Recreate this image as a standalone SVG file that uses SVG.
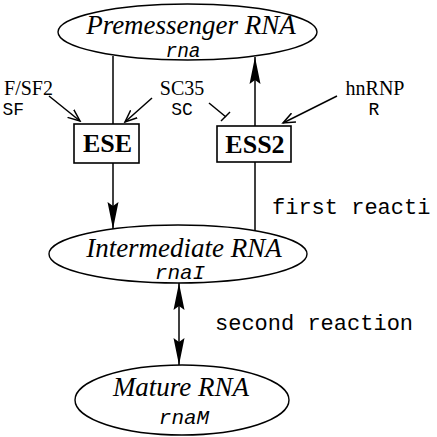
<svg xmlns="http://www.w3.org/2000/svg" width="437" height="437" viewBox="0 0 437 437">
<style>
.ell{fill:#fff;stroke:#000;stroke-width:1.4}
.box{fill:#fff;stroke:#000;stroke-width:1.6}
.ln{fill:none;stroke:#000;stroke-width:1.5}
.big{font-family:"Liberation Serif","Times New Roman",serif;font-style:italic;font-size:27px;text-anchor:middle}
.var{font-family:"Liberation Mono","Courier New",monospace;font-style:italic;font-size:21px;text-anchor:middle}
.bx{font-family:"Liberation Serif","Times New Roman",serif;font-weight:bold;font-size:26px;text-anchor:middle}
.lab{font-family:"Liberation Serif","Times New Roman",serif;font-size:20px}
.mono{font-family:"Liberation Mono","Courier New",monospace;font-size:18px}
.rx{font-family:"Liberation Mono","Courier New",monospace;font-size:22px}
</style>
<defs>
<marker id="solid" markerUnits="userSpaceOnUse" markerWidth="30" markerHeight="14" viewBox="0 -7 28 14" refX="27" refY="0" orient="auto-start-reverse">
<path d="M0,-5.5 L27,0 L0,5.5 L4,0 Z" fill="#000"/>
</marker>
<marker id="open" markerUnits="userSpaceOnUse" markerWidth="14" markerHeight="12" viewBox="0 -6 14 12" refX="12" refY="0" orient="auto">
<path d="M0,-5 L12,0 L0,5" fill="none" stroke="#000" stroke-width="1.5"/>
</marker>
</defs>
<g id="connectors">
<line class="ln" x1="113" y1="56" x2="113" y2="124"/>
<line class="ln" x1="113" y1="163" x2="113" y2="229" marker-end="url(#solid)"/>
<line class="ln" x1="255" y1="126" x2="255" y2="57" marker-end="url(#solid)"/>
<line class="ln" x1="255" y1="162" x2="255" y2="231"/>
<line class="ln" x1="179" y1="283" x2="179" y2="365" marker-start="url(#solid)" marker-end="url(#solid)"/>
<line class="ln" x1="49" y1="96" x2="80" y2="121" marker-end="url(#open)"/>
<line class="ln" x1="152" y1="98" x2="125" y2="122" marker-end="url(#open)"/>
<line class="ln" x1="337" y1="96" x2="283" y2="123" marker-end="url(#open)"/>
<line class="ln" x1="209" y1="103" x2="226" y2="117"/>
<line class="ln" x1="221" y1="121" x2="230" y2="112"/>
<text class="rx" x="272" y="214">first reacti</text>
<text class="rx" x="215" y="330">second reaction</text>
</g>
<g id="premessenger">
<ellipse class="ell" cx="187.5" cy="32" rx="129.5" ry="28"/>
<text class="big" x="191" y="34">Premessenger RNA</text>
<text class="var" x="183" y="57" style="font-size:19.5px">rna</text>
</g>
<g id="ese">
<rect class="box" x="74" y="124" width="65" height="39"/>
<text class="bx" x="107.5" y="152">ESE</text>
</g>
<g id="ess2">
<rect class="box" x="217" y="126" width="74" height="36"/>
<text class="bx" x="255" y="153">ESS2</text>
</g>
<g id="asf">
<text class="lab" x="53" y="95" text-anchor="end">F/SF2</text>
<text class="mono" x="24" y="115" text-anchor="end">SF</text>
</g>
<g id="sc35">
<text class="lab" x="182" y="95" text-anchor="middle">SC35</text>
<text class="mono" x="182" y="115" text-anchor="middle">SC</text>
</g>
<g id="hnrnp">
<text class="lab" x="375" y="95" text-anchor="middle">hnRNP</text>
<text class="mono" x="374" y="115" text-anchor="middle">R</text>
</g>
<g id="intermediate">
<ellipse class="ell" cx="178" cy="254" rx="129" ry="29"/>
<text class="big" x="184" y="257">Intermediate RNA</text>
<text class="var" x="180" y="279">rnaI</text>
</g>
<g id="mature">
<ellipse class="ell" cx="182" cy="400" rx="107" ry="35"/>
<text class="big" x="181" y="396">Mature RNA</text>
<text class="var" x="184" y="424">rnaM</text>
</g>
</svg>
